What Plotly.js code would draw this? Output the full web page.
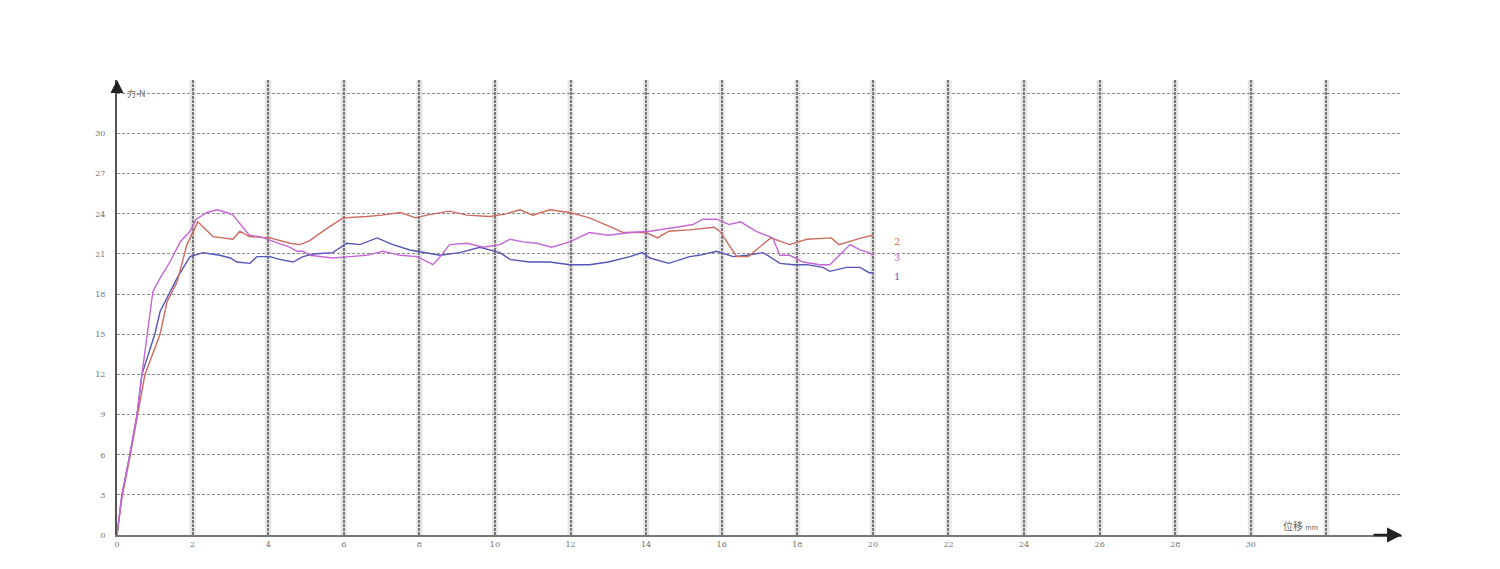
<!DOCTYPE html>
<html><head><meta charset="utf-8">
<script src="https://cdn.plot.ly/plotly-3.0.1.min.js"></script>
<style>html,body{margin:0;padding:0;background:#fff}#chart{width:1500px;height:569px}</style>
</head><body><div id="chart"></div>
<script>
const s1x = [0,0.13,0.34,0.53,0.66,1.0,1.14,1.59,1.93,2.28,2.5,2.72,3.0,3.17,3.52,3.7,4.05,4.3,4.66,4.92,5.19,5.71,6.08,6.43,6.88,7.3,7.75,8.2,8.55,9.07,9.6,10.13,10.4,10.9,11.45,11.98,12.5,13.0,13.57,13.9,14.1,14.6,15.15,15.4,15.87,16.3,16.67,17.1,17.54,17.9,18.25,18.68,18.86,19.3,19.66,19.9,20];
const s1y = [0,3,6,9,12,15,16.7,19.2,20.8,21.1,21.0,20.9,20.7,20.4,20.3,20.8,20.8,20.6,20.4,20.8,21.0,21.1,21.8,21.7,22.2,21.7,21.3,21.1,20.9,21.1,21.5,21.1,20.6,20.4,20.4,20.2,20.2,20.4,20.8,21.1,20.7,20.3,20.8,20.9,21.2,20.8,20.9,21.1,20.3,20.2,20.2,20.0,19.7,20.0,20.0,19.6,19.6];

const s2x = [0,0.13,0.34,0.55,0.74,1.14,1.32,1.59,1.85,2.14,2.54,2.8,3.07,3.25,3.5,4.05,4.58,4.84,5.1,5.5,5.98,6.6,7.0,7.5,7.9,8.2,8.8,9.26,9.87,10.3,10.66,11.0,11.45,11.98,12.5,13.0,13.4,14.0,14.3,14.6,15.15,15.8,15.95,16.4,16.7,17.0,17.3,17.8,18.25,18.9,19.1,19.7,20];
const s2y = [0,2.8,5.8,9,12,15,17.4,18.9,21.7,23.4,22.3,22.2,22.1,22.7,22.3,22.2,21.8,21.7,22.0,22.8,23.7,23.8,23.9,24.1,23.7,23.9,24.2,23.9,23.8,24.0,24.3,23.9,24.3,24.1,23.7,23.1,22.6,22.6,22.2,22.7,22.8,23.0,22.7,20.8,20.8,21.5,22.2,21.7,22.1,22.2,21.7,22.2,22.4];

const s3x = [0,0.13,0.34,0.53,0.66,0.8,0.87,0.95,1.14,1.4,1.67,1.93,2.1,2.38,2.65,2.9,3.07,3.33,3.5,3.78,4.2,4.58,4.76,4.92,5.1,5.37,5.71,6.16,6.6,7.04,7.5,7.94,8.36,8.55,8.8,9.26,9.7,10.13,10.4,10.74,11.1,11.5,11.98,12.5,13.0,13.57,14.1,14.8,15.24,15.5,15.87,16.2,16.5,16.9,17.35,17.54,17.8,18.15,18.6,18.86,19.1,19.4,19.66,19.9,20];
const s3y = [0,3,6,9,12,15,16.7,18.2,19.2,20.4,21.9,22.7,23.6,24.1,24.3,24.1,23.9,23.0,22.4,22.3,21.9,21.5,21.2,21.2,20.9,20.8,20.7,20.8,20.9,21.2,20.9,20.8,20.2,20.8,21.7,21.8,21.5,21.7,22.1,21.9,21.8,21.5,21.9,22.6,22.4,22.6,22.7,23.0,23.2,23.6,23.6,23.2,23.4,22.7,22.2,20.9,20.9,20.4,20.2,20.2,20.9,21.7,21.3,21.1,20.9];

const seriesNames = ['1','2','3'];
const seriesColors = ['#5656b8','#cc6b60','#c468d6'];
const labelY = [19.3, 21.9, 20.7];

const xTicks = [0,2,4,6,8,10,12,14,16,18,20,22,24,26,28,30,32];
const xTickText = ['0','2','4','6','8','10','12','14','16','18','20','22','24','26','28','30',''];
const yTicks = [0,3,6,9,12,15,18,21,24,27,30,33];
const yTickText = ['0','3','6','9','12','15','18','21','24','27','30',''];

const xs = [s1x,s2x,s3x], ys = [s1y,s2y,s3y];
const traces = xs.map((x,i)=>({x:x,y:ys[i],type:'scatter',mode:'lines',name:seriesNames[i],
  line:{color:seriesColors[i],width:1.4},hoverinfo:'skip'}));

const tickFont = {family:'DejaVu Serif, serif', size:8, color:'#707070'};
const annotations = seriesNames.map((n,i)=>({x:20.5,y:labelY[i],xref:'x',yref:'y',text:n,showarrow:false,
  xanchor:'left',yanchor:'middle',font:{family:'DejaVu Serif, serif',size:10,color:seriesColors[i]}}));
annotations.push({x:0.2,y:33,xref:'x',yref:'y',text:'力-N',showarrow:false,xanchor:'left',yanchor:'middle',
  font:{family:'Noto Sans CJK SC, sans-serif',size:9,color:'#666'}});
annotations.push({x:30.8,y:0.7,xref:'x',yref:'y',text:'位移 <span style="font-size:7px">mm</span>',showarrow:false,xanchor:'left',yanchor:'middle',
  font:{family:'Noto Sans CJK SC, sans-serif',size:10,color:'#666'}});
annotations.push({x:0,y:34,xref:'x',yref:'y',ax:0,ay:14,showarrow:true,arrowhead:2,arrowsize:1.3,arrowwidth:2,arrowcolor:'#222',text:''});
annotations.push({x:34,y:0,xref:'x',yref:'y',ax:-30,ay:0,showarrow:true,arrowhead:2,arrowsize:1.2,arrowwidth:2.5,arrowcolor:'#222',text:''});

const shapes = xTicks.slice(1).map(v=>({type:'line',xref:'x',yref:'y',x0:v,x1:v,y0:0,y1:34,layer:'below',
  line:{color:'#e4e4e4',width:6}}));

const layout = {
  width:1500,height:569,paper_bgcolor:'#fff',plot_bgcolor:'#fff',showlegend:false,
  margin:{l:117,r:98,t:80,b:34},
  xaxis:{range:[0,34],tickvals:xTicks,ticktext:xTickText,showgrid:true,gridcolor:'#7a7a7a',gridwidth:2,griddash:'3px,1px',
    zeroline:false,showline:true,linecolor:'#777',linewidth:2,ticks:'',tickfont:tickFont,ticklabelstandoff:0,fixedrange:true},
  yaxis:{range:[0,34],tickvals:yTicks,ticktext:yTickText,showgrid:true,gridcolor:'#8c8c8c',gridwidth:1,griddash:'3px,2px',
    zeroline:false,showline:true,linecolor:'#555',linewidth:2,ticks:'',tickfont:tickFont,ticklabelstandoff:8,fixedrange:true},
  shapes:shapes,
  annotations:annotations
};
Plotly.newPlot('chart',traces,layout,{staticPlot:true,displayModeBar:false});
</script></body></html>
